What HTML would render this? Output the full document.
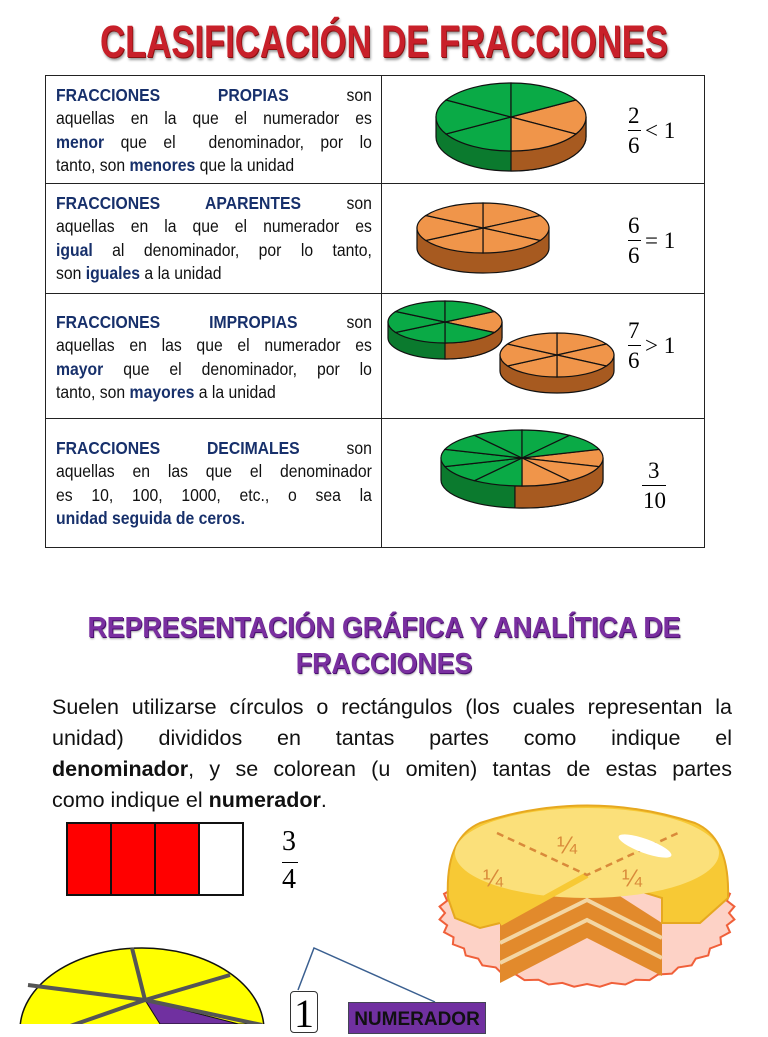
<!DOCTYPE html>
<html><head><meta charset="utf-8">
<style>
body{margin:0;width:768px;height:1024px;background:#fff;position:relative;overflow:hidden;font-family:"Liberation Sans",sans-serif}
.title{position:absolute;left:-116px;width:1000px;top:16px;text-align:center;font-weight:bold;font-size:45px;color:#c8202a;transform:scaleX(.77);text-shadow:1px 1px 0 #8a1010,2px 3px 3px #999;white-space:nowrap}
table{position:absolute;left:45px;top:75px;border-collapse:collapse;table-layout:fixed;width:659px}
td{border:1px solid #222;padding:0;overflow:hidden}
td.t{padding:8px 0 0 10px;vertical-align:top;color:#111}
.in{width:351px;transform:scaleX(.9);transform-origin:0 0;font-size:17.5px;line-height:23.3px}
.in div{text-align:justify;text-align-last:justify;white-space:nowrap}
.in div.l{text-align-last:left}
b{color:#17306b}
.h2{position:absolute;left:-116px;width:1000px;text-align:center;font-weight:bold;font-size:29px;color:#7a2fa0;transform:scaleX(.92);text-shadow:1px 1px 0 #4a1070,1px 2px 2px #aaa;white-space:nowrap}
.pl{position:absolute;left:52px;width:680px;font-size:21.5px;line-height:31px;text-align:justify;text-align-last:justify;color:#111;white-space:nowrap}
.pl b{color:#111}
.n{position:absolute;font-family:"Liberation Serif",serif;font-size:23px;line-height:23px}
.bar{position:absolute;height:0;border-top:1.5px solid #000}
</style></head><body>
<div class="title">CLASIFICACIÓN DE FRACCIONES</div>
<table>
<colgroup><col style="width:336px"><col style="width:323px"></colgroup>
<tr style="height:108px"><td class="t"><div class="in"><div><b>FRACCIONES PROPIAS</b> son</div><div>aquellas en la que el numerador es</div><div><b>menor</b> que el &nbsp;denominador, por lo</div><div class="l">tanto, son <b>menores</b> que la unidad</div></div></td><td></td></tr>
<tr style="height:110px"><td class="t"><div class="in"><div><b>FRACCIONES APARENTES</b> son</div><div>aquellas en la que el numerador es</div><div><b>igual</b> al denominador, por lo tanto,</div><div class="l">son <b>iguales</b> a la unidad</div></div></td><td></td></tr>
<tr style="height:125px"><td class="t" style="padding-top:17px"><div class="in"><div><b>FRACCIONES IMPROPIAS</b> son</div><div>aquellas en las que el numerador es</div><div><b>mayor</b> que el denominador, por lo</div><div class="l">tanto, son <b>mayores</b> a la unidad</div></div></td><td></td></tr>
<tr style="height:129px"><td class="t" style="padding-top:18px"><div class="in"><div><b>FRACCIONES DECIMALES</b> son</div><div>aquellas en las que el denominador</div><div>es 10, 100, 1000, etc., o sea la</div><div class="l"><b>unidad seguida de ceros.</b></div></div></td><td></td></tr>
</table>
<svg id="s" width="768" height="1024" style="position:absolute;left:0;top:0"></svg>
<div class="n" style="left:628px;top:104px">2</div><div class="bar" style="left:628px;top:130px;width:13px"></div><div class="n" style="left:628px;top:134px">6</div><div class="n" style="left:645px;top:119px">&lt; 1</div>
<div class="n" style="left:628px;top:214px">6</div><div class="bar" style="left:628px;top:240px;width:13px"></div><div class="n" style="left:628px;top:244px">6</div><div class="n" style="left:645px;top:229px">= 1</div>
<div class="n" style="left:628px;top:319px">7</div><div class="bar" style="left:628px;top:345px;width:13px"></div><div class="n" style="left:628px;top:349px">6</div><div class="n" style="left:645px;top:334px">&gt; 1</div>
<div class="n" style="left:648px;top:459px">3</div><div class="bar" style="left:642px;top:485px;width:24px"></div><div class="n" style="left:643px;top:489px">10</div>
<div class="h2" style="top:612px">REPRESENTACIÓN GRÁFICA Y ANALÍTICA DE</div>
<div class="h2" style="top:648px">FRACCIONES</div>
<div class="pl" style="top:692px">Suelen utilizarse círculos o rectángulos (los cuales representan la</div>
<div class="pl" style="top:723px">unidad) divididos en tantas partes como indique el</div>
<div class="pl" style="top:754px"><b>denominador</b>, y se colorean (u omiten) tantas de estas partes</div>
<div class="pl" style="top:785px;text-align-last:left">como indique el <b>numerador</b>.</div>
<div class="n" style="left:282px;top:830px;font-size:28px">3</div><div class="bar" style="left:282px;top:862px;width:16px"></div><div class="n" style="left:282px;top:868px;font-size:28px">4</div>
<div style="position:absolute;left:290px;top:991px;width:26px;height:40px;border:1.5px solid #333;border-radius:4px;font-family:'Liberation Serif',serif;font-size:40px;line-height:44px;text-align:center">1</div>
<div style="position:absolute;left:348px;top:1002px;width:136px;height:30px;background:#7030a0;border:1px solid #445;color:#111;font-weight:bold;font-size:19px;text-align:center;line-height:34px">NUMERADOR</div>
<script>
const s=document.getElementById('s');let h='';
function pt(cx,cy,rx,ry,a){a=a*Math.PI/180;return [cx+rx*Math.cos(a),cy+ry*Math.sin(a)];}
function pie(cx,cy,rx,ry,t,n,cols,side,start){
 h+=`<path d="M${cx-rx},${cy} L${cx-rx},${cy+t} A${rx},${ry} 0 0 0 ${cx+rx},${cy+t} L${cx+rx},${cy} Z" fill="${side[0]}" stroke="#111" stroke-width="1.2"/>`;
 if(side[1]){const p=pt(cx,cy,rx,ry,side[2]);h+=`<path d="M${p[0]},${p[1]} L${p[0]},${p[1]+t} A${rx},${ry} 0 0 0 ${cx+rx},${cy+t} L${cx+rx},${cy} A${rx},${ry} 0 0 1 ${p[0]},${p[1]} Z" fill="${side[1]}" stroke="#111" stroke-width="1.2"/>`;}
 for(let i=0;i<n;i++){const a1=start+360/n*i,a2=a1+360/n;const p1=pt(cx,cy,rx,ry,a1),p2=pt(cx,cy,rx,ry,a2);
 h+=`<path d="M${cx},${cy} L${p1[0]},${p1[1]} A${rx},${ry} 0 0 1 ${p2[0]},${p2[1]} Z" fill="${cols[i]}" stroke="#111" stroke-width="1.2"/>`;}
}
const G='#0aaa46',O='#f0954a',GD='#0b7a2e',OD='#a75a20';
pie(511,117,75,34,20,6,[O,O,G,G,G,G],[GD,OD,90],-30);
pie(483,228,66,25,20,6,[O,O,O,O,O,O],[OD],-90);
pie(445,322,57,21,16,6,[O,G,G,G,G,G],[GD,OD,90],-30);
pie(557,355,57,22,16,6,[O,O,O,O,O,O],[OD],-90);
pie(522,458,81,28,22,10,[O,O,O,G,G,G,G,G,G,G],[GD,OD,95],-18);
for(let i=0;i<4;i++)h+=`<rect x="${67+44*i}" y="823" width="44" height="72" fill="${i<3?'#ff0000':'#fff'}" stroke="#111" stroke-width="2"/>`;
h+='<g transform="translate(0,18)">';
let d='';for(let i=0;i<=72;i++){const a=i*5*Math.PI/180,r=142+(i%2?6:0);d+=(i?'L':'M')+(587+r*Math.cos(a))+','+(895+r*Math.sin(a)*0.5);}
h+=`<path d="${d}Z" fill="#fdd2c6" stroke="#f0603a" stroke-width="2"/>`;
h+=`<path d="M587,857 L500,905 L500,965 L587,920 L662,958 L662,905 Z" fill="#e28a2c"/>`;
h+=`<path d="M500,925 L587,882 L662,920 M500,945 L587,902 L662,940" stroke="#f3d6a4" stroke-width="4" fill="none"/>`;
h+=`<path d="M448,880 Q445,820 480,805 Q587,770 695,805 Q730,820 728,880 L700,905 L662,905 L662,880 L587,857 L500,905 L480,910 L455,900 Z" fill="#f7c935" stroke="#e6a820" stroke-width="2"/>`;
h+=`<ellipse cx="587" cy="835" rx="132" ry="45" fill="#fbe07a"/>`;
h+=`<path d="M587,857 L500,905" stroke="#f7c935" stroke-width="6"/>`;
h+=`<path d="M497,815 L587,857 L678,815" stroke="#d98a3a" stroke-width="2.5" stroke-dasharray="7,5" fill="none"/>`;
h+=`<ellipse cx="645" cy="828" rx="28" ry="7" fill="#fff" transform="rotate(20 645 828)"/>`;
h+=`<text x="557" y="835" font-size="24" fill="#d98a3a" font-family="Liberation Sans">¼</text><text x="483" y="868" font-size="24" fill="#d98a3a" font-family="Liberation Sans">¼</text><text x="622" y="868" font-size="24" fill="#d98a3a" font-family="Liberation Sans">¼</text>`;
h+='</g>';
h+=`<ellipse cx="142" cy="1030" rx="122" ry="82" fill="#ffff00" stroke="#111" stroke-width="1.5"/>`;
h+=`<path d="M145,1000 L262,1030 L262,1024 L160,1024 Z" fill="#7030a0" stroke="#111"/>`;
[[132,948],[28,985],[230,975],[262,1025],[30,1040]].forEach(p=>h+=`<line x1="145" y1="1000" x2="${p[0]}" y2="${p[1]}" stroke="#555" stroke-width="4"/>`);
h+=`<path d="M298,990 L314,948 L435,1002" stroke="#3a5f90" stroke-width="1.5" fill="none"/>`;
s.innerHTML=h;
</script>
</body></html>
